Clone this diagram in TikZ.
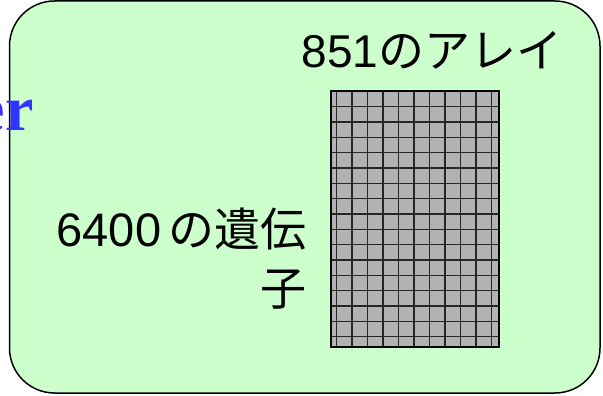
\documentclass[tikz,border=0pt]{standalone}
\usepackage{fontspec}
\setmainfont{Liberation Sans}
\newfontfamily\jp{Noto Sans CJK JP}
\newfontfamily\serifbold{Liberation Serif}[BoldFont={Liberation Serif Bold}]
\definecolor{boxgreen}{HTML}{CCFFCC}
\definecolor{cellgray}{HTML}{B3B3B3}
\definecolor{titleblue}{HTML}{3333FF}
\begin{document}
\begin{tikzpicture}[x=1pt,y=-1pt,
  lbl/.style={inner sep=0pt,font=\fontsize{46}{52}\selectfont},
  gridline/.style={draw=black!85,line width=1.5pt}]
\useasboundingbox (0,0) rectangle (603,396);
% panel
\draw[fill=boxgreen,line width=1.5pt,rounded corners=45pt] (9.5,1) rectangle (600,393);
% partially hidden title
\node[inner sep=0pt,anchor=base east,text=titleblue,font=\serifbold\bfseries\fontsize{64}{70}\selectfont] (title) at (34,131) {er};
% labels
\node[lbl,anchor=base west] (arrays) at (301.5,68) {851{\jp のアレイ}};
\node[lbl,anchor=base west,font=\fontsize{47}{52}\selectfont] (num) at (56.5,246.5) {6400};
\node[lbl,anchor=base east] (genes) at (307,246.5) {\jp の遺伝};
\node[lbl,anchor=base east] (genes2) at (307,305) {\jp 子};
% matrix
\fill[cellgray] (331,91) rectangle (499,347);
\foreach \gx in {336.7,352.2,367.7,383.2,398.7,414.2,429.7,445.2,460.7,476.2,491.7} {
  \draw[gridline] (\gx,91) -- (\gx,347);
}
\foreach \gy in {106.7,122.0,137.4,152.7,168.0,183.4,198.7,214.0,229.4,244.7,260.0,275.4,290.7,306.0,321.4,336.7} {
  \draw[gridline] (331,\gy) -- (499,\gy);
}
\draw[line width=2pt] (331,91) rectangle (499,347);
\end{tikzpicture}
\end{document}
